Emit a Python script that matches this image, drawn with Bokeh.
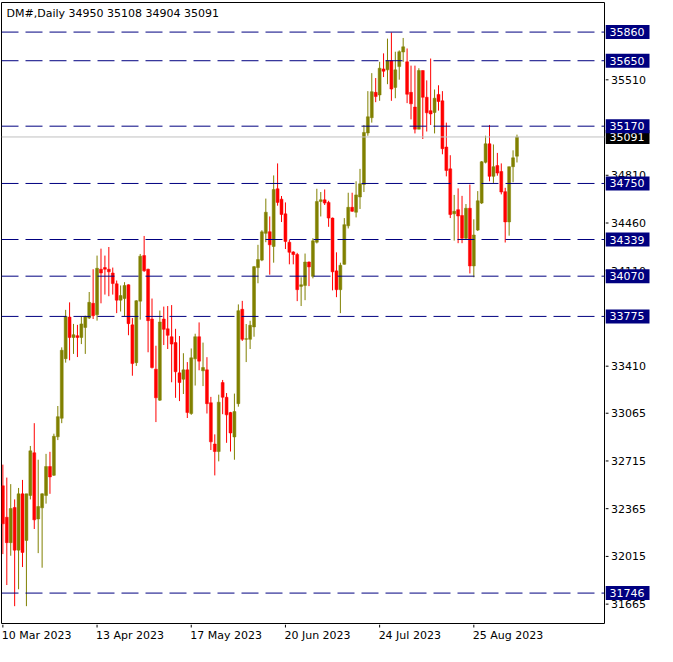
from bokeh.plotting import figure
from bokeh.layouts import row, column
from bokeh.models import Range1d, Span, Label, ColumnDataSource
from bokeh.core.properties import value
from bokeh.embed import file_html
from bokeh.resources import INLINE

# ---- data (daily OHLC) ----
opens = [32533, 32302, 32116, 32374, 32061, 32474, 32132, 32462, 32775, 32290,
         32371, 32462, 32674, 32610, 32892, 33028, 33465, 33770, 33620, 33634,
         33620, 33694, 33763, 33871, 33787, 34121, 34133, 34121, 34093, 34014,
         33894, 33906, 34007, 33713, 33436, 33887, 34221, 34121, 33756, 33388,
         33161, 33756, 33684, 33626, 33583, 33361, 33314, 33383, 33063, 33464,
         33626, 33376, 33383, 33142, 32839, 32784, 33290, 33182, 33070, 32891,
         33135, 33827, 33607, 33607, 33698, 34133, 34188, 34384, 34396, 34288,
         34711, 34635, 34527, 34319, 34248, 34229, 33995, 34002, 34174, 34069,
         34319, 34618, 34630, 34611, 34496, 34109, 33971, 34157, 34439, 34575,
         34539, 34651, 34742, 35120, 35232, 35418, 35399, 35590, 35583, 35650,
         35454, 35607, 35714, 35642, 35418, 35310, 35148, 35578, 35382, 35284,
         35270, 35403, 35356, 35017, 34857, 34527, 34558, 34515, 34348, 34568,
         34145, 34408, 34606, 34905, 35041, 34802, 34881, 34838, 34690, 34468,
         34873, 34950]
highs = [32688, 32593, 32545, 32433, 32517, 32576, 32474, 32825, 32992, 32724,
         32478, 32767, 32782, 32915, 33118, 33548, 33823, 33878, 33720, 33713,
         33775, 33780, 33954, 34121, 34221, 34272, 34221, 34284, 34133, 34038,
         34002, 34026, 34010, 33763, 33894, 34233, 34365, 34125, 33906, 33560,
         33818, 33847, 33851, 33858, 33684, 33631, 33505, 33440, 33540, 33648,
         33731, 33583, 33476, 33185, 32910, 33201, 33309, 33213, 33075, 33209,
         33863, 33889, 33719, 33743, 34145, 34300, 34407, 34639, 34508, 34809,
         34897, 34658, 34611, 34336, 34253, 34241, 34062, 34236, 34178, 34348,
         34711, 34687, 34706, 34623, 34500, 34245, 34169, 34496, 34682, 34682,
         34766, 34857, 35179, 35427, 35559, 35523, 35642, 35704, 35812, 35857,
         35716, 35726, 35817, 35740, 35614, 35614, 35595, 35578, 35506, 35666,
         35439, 35470, 35427, 35196, 34957, 34666, 34714, 34659, 34599, 34742,
         34487, 34694, 34914, 35100, 35179, 35036, 34974, 34897, 34718, 34873,
         34993, 35108]
lows = [32032, 31805, 32020, 31650, 31774, 31937, 31650, 32433, 32216, 32039,
        31932, 32402, 32474, 32605, 32868, 32992, 33436, 33453, 33500, 33477,
        33572, 33500, 33756, 33756, 33744, 33871, 33935, 33923, 33935, 33799,
        33811, 33775, 33637, 33340, 33412, 33751, 34102, 33512, 33393, 33000,
        33155, 33565, 33536, 33292, 33178, 33154, 33206, 33030, 33053, 33268,
        33380, 33264, 33063, 32795, 32609, 32712, 33058, 32848, 32784, 32724,
        33113, 33595, 33440, 33536, 33626, 34018, 34180, 34319, 34081, 34169,
        34587, 34467, 34269, 34157, 34157, 33887, 33851, 33894, 33997, 34054,
        34310, 34508, 34592, 34432, 33966, 33916, 33799, 34155, 34420, 34542,
        34501, 34563, 34687, 35100, 35196, 35346, 35356, 35530, 35478, 35356,
        35375, 35511, 35642, 35339, 35220, 35117, 35148, 35076, 35131, 35179,
        35117, 35284, 34964, 34802, 34496, 34331, 34312, 34312, 34336, 34090,
        34062, 34401, 34599, 34897, 34766, 34754, 34807, 34670, 34317, 34367,
        34759, 34904]
closes = [32254, 32116, 32366, 32061, 32474, 32044, 32474, 32789, 32283, 32381,
          32474, 32674, 32598, 32896, 33040, 33527, 33775, 33620, 33641, 33620,
          33720, 33775, 33878, 33780, 34128, 34093, 34121, 34102, 34016, 33894,
          33928, 34002, 33722, 33429, 33890, 34217, 34109, 33744, 33400, 33178,
          33734, 33680, 33636, 33572, 33369, 33290, 33383, 33070, 33471, 33626,
          33447, 33400, 33135, 32855, 32784, 33146, 33182, 33053, 32920, 33077,
          33817, 33607, 33612, 33710, 34140, 34192, 34395, 34539, 34300, 34706,
          34611, 34522, 34324, 34245, 34229, 33971, 34007, 34174, 34138, 34329,
          34618, 34630, 34606, 34496, 34102, 33971, 34150, 34448, 34575, 34546,
          34666, 34747, 35124, 35239, 35423, 35387, 35595, 35573, 35650, 35442,
          35583, 35716, 35752, 35404, 35334, 35148, 35578, 35382, 35268, 35260,
          35375, 35351, 35005, 34845, 34522, 34546, 34511, 34348, 34568, 34145,
          34372, 34623, 34909, 35041, 34802, 34873, 34826, 34687, 34468, 34873,
          34938, 35091]

date_tick_index = [0, 24, 48, 72, 96, 120]
date_tick_labels = ["10 Mar 2023", "13 Apr 2023", "17 May 2023",
                    "20 Jun 2023", "24 Jul 2023", "25 Aug 2023"]
price_axis_ticks = [35510, 34810, 34460, 34110, 33410, 33065, 32715, 32365, 32015, 31665]
level_prices = [35860, 35650, 35170, 34750, 34339, 34070, 33775, 31746]
last_price = 35091
title_text = "DM#,Daily  34950 35108 34904 35091"

# ---- styling / layout ----
FONT = "DejaVu Sans"
FS = "11px"
BULL = "#808000"
BEAR = "#FF0000"
NAVY = "#000080"
WM, HM = 605, 624      # main chart canvas
WS = 52                # price scale strip
HB = 22                # date strip

xr = Range1d(-0.35, 153.3)
yr = Range1d(31523, 36077)


def bare(fig):
    fig.grid.grid_line_color = None
    fig.background_fill_color = "white"
    fig.border_fill_color = "white"
    return fig


# ---- main chart ----
idx = list(range(len(opens)))
colors = [BULL if c >= o else BEAR for o, c in zip(opens, closes)]
src = ColumnDataSource(dict(
    x=idx, o=opens, h=highs, l=lows, c=closes,
    top=[max(o, c) for o, c in zip(opens, closes)],
    bot=[min(o, c) for o, c in zip(opens, closes)],
    color=colors,
))

p = bare(figure(width=WM, height=HM, output_backend="svg", toolbar_location=None,
                x_range=xr, y_range=yr,
                min_border_left=1, min_border_right=1, min_border_top=2, min_border_bottom=1,
                x_axis_location=None, y_axis_location=None))
p.outline_line_color = "black"
p.outline_line_width = 1

p.segment(x0="x", y0="l", x1="x", y1="h", color="color", line_width=1, source=src)
p.vbar(x="x", top="top", bottom="bot", width=0.75, fill_color="color",
       line_color="color", line_width=0.5, source=src)

for lv in level_prices:
    p.add_layout(Span(location=lv, dimension="width", line_color=NAVY,
                      line_width=1, line_dash="17 7"))
p.add_layout(Span(location=last_price, dimension="width", line_color="#C0C0C0", line_width=1))

p.add_layout(Label(x=5, y=621 - 4, x_units="screen", y_units="screen", text=title_text,
                   text_font=FONT, text_font_size=FS, text_color="black",
                   text_align="left", text_baseline="top"))

# ---- price scale strip (right) ----
s = bare(figure(width=WS, height=HM, output_backend="svg", toolbar_location=None,
                x_range=Range1d(0, WS), y_range=yr,
                min_border_left=0, min_border_right=0, min_border_top=2, min_border_bottom=1,
                x_axis_location=None, y_axis_location=None))
s.outline_line_color = None

tick_src = ColumnDataSource(dict(y=price_axis_ticks, text=[str(t) for t in price_axis_ticks]))
s.segment(x0=0, y0="y", x1=3, y1="y", line_color="black", line_width=1, source=tick_src)
s.text(x=5.5, y="y", text="text", text_font=value(FONT), text_font_size=value(FS),
       text_color="black", text_align="left", text_baseline="middle", source=tick_src)

s.rect(x=22, y=[last_price], width=44, height=14, height_units="screen",
       fill_color="black", line_color=None)
s.text(x=4, y=[last_price], text=[str(last_price)], text_font=value(FONT),
       text_font_size=value(FS), text_color="white", text_align="left", text_baseline="middle")

lvl_src = ColumnDataSource(dict(y=level_prices, text=[str(v) for v in level_prices]))
s.rect(x=22, y="y", width=44, height=14, height_units="screen",
       fill_color=NAVY, line_color=None, source=lvl_src)
s.text(x=4, y="y", text="text", text_font=value(FONT), text_font_size=value(FS),
       text_color="white", text_align="left", text_baseline="middle", source=lvl_src)

# ---- date strip (bottom) ----
b = bare(figure(width=WM, height=HB, output_backend="svg", toolbar_location=None,
                x_range=xr, y_range=Range1d(0, HB),
                min_border_left=1, min_border_right=1, min_border_top=0, min_border_bottom=0,
                x_axis_location=None, y_axis_location=None))
b.outline_line_color = None
date_src = ColumnDataSource(dict(x=date_tick_index, text=date_tick_labels))
b.segment(x0="x", y0=HB, x1="x", y1=HB - 3, line_color="black", line_width=1, source=date_src)
b.text(x="x", y=HB - 4, text="text", text_font=value(FONT), text_font_size=value(FS),
       text_color="black", text_align="left", text_baseline="top", x_offset=-1, source=date_src)

layout = column(row(p, s, spacing=0), b, spacing=0)
open("out.html", "w").write(file_html(layout, INLINE))
